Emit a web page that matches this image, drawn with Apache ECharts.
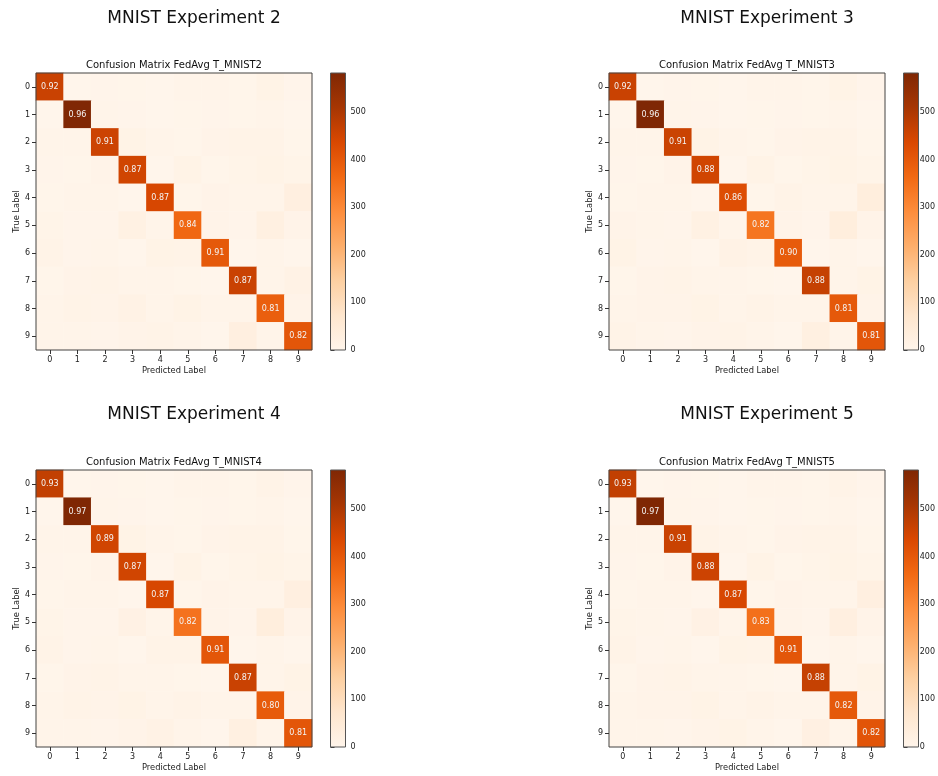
<!DOCTYPE html>
<html><head><meta charset="utf-8">
<script src="https://cdn.jsdelivr.net/npm/echarts@6/dist/echarts.min.js"></script>
<style>html,body{margin:0;padding:0;background:#fff}#c{width:938px;height:776px}</style>
</head><body><div id="c"></div>
<script>
const classLabels = ['0','1','2','3','4','5','6','7','8','9'];
const colorbarTicks = [0, 100, 200, 300, 400, 500];
const colorMin = 0;
const colorMax = 582;
const experimentNames = ['MNIST Experiment 2', 'MNIST Experiment 3', 'MNIST Experiment 4', 'MNIST Experiment 5'];
const matrixTitles = ['Confusion Matrix FedAvg T_MNIST2', 'Confusion Matrix FedAvg T_MNIST3', 'Confusion Matrix FedAvg T_MNIST4', 'Confusion Matrix FedAvg T_MNIST5'];

// rows = true label, columns = predicted label (counts)
const exp2Counts = [
  [460, 0, 3, 2, 1, 5, 5, 2, 12, 3],
  [0, 580, 5, 3, 1, 2, 3, 2, 5, 1],
  [5, 6, 455, 12, 6, 2, 8, 9, 10, 2],
  [3, 2, 8, 450, 1, 12, 2, 7, 12, 7],
  [2, 4, 4, 1, 440, 2, 8, 4, 6, 28],
  [7, 3, 3, 20, 6, 368, 8, 3, 25, 8],
  [10, 3, 4, 1, 12, 9, 400, 0, 5, 0],
  [2, 8, 10, 6, 6, 2, 0, 460, 4, 15],
  [6, 10, 8, 14, 6, 12, 4, 4, 385, 8],
  [6, 6, 3, 8, 10, 4, 1, 28, 6, 405]
];
const exp2Accuracy = ['0.92', '0.96', '0.91', '0.87', '0.87', '0.84', '0.91', '0.87', '0.81', '0.82'];

const exp3Counts = [
  [460, 0, 3, 2, 1, 5, 4, 2, 12, 3],
  [0, 582, 5, 3, 1, 2, 3, 2, 5, 1],
  [5, 6, 458, 12, 6, 2, 8, 9, 10, 2],
  [3, 2, 8, 450, 1, 12, 2, 7, 12, 7],
  [2, 5, 4, 1, 425, 2, 10, 4, 6, 35],
  [8, 5, 3, 20, 6, 340, 8, 3, 35, 8],
  [12, 3, 4, 1, 14, 9, 395, 0, 5, 0],
  [2, 8, 10, 6, 6, 2, 0, 465, 5, 12],
  [6, 8, 8, 12, 6, 10, 4, 4, 400, 8],
  [10, 6, 3, 8, 10, 4, 1, 25, 6, 405]
];
const exp3Accuracy = ['0.92', '0.96', '0.91', '0.88', '0.86', '0.82', '0.90', '0.88', '0.81', '0.81'];

const exp4Counts = [
  [470, 0, 3, 2, 1, 5, 4, 2, 10, 3],
  [0, 582, 5, 3, 1, 2, 3, 2, 5, 1],
  [5, 6, 450, 12, 6, 2, 8, 9, 10, 2],
  [3, 2, 8, 450, 1, 12, 2, 7, 12, 7],
  [2, 4, 4, 1, 440, 2, 8, 4, 6, 28],
  [7, 3, 3, 18, 6, 345, 8, 3, 35, 8],
  [10, 3, 4, 1, 10, 9, 405, 0, 5, 0],
  [2, 8, 10, 6, 6, 2, 0, 460, 4, 12],
  [6, 10, 8, 12, 6, 10, 4, 4, 395, 8],
  [6, 6, 3, 8, 14, 4, 1, 25, 6, 405]
];
const exp4Accuracy = ['0.93', '0.97', '0.89', '0.87', '0.87', '0.82', '0.91', '0.87', '0.80', '0.81'];

const exp5Counts = [
  [470, 0, 3, 2, 1, 5, 4, 2, 10, 3],
  [0, 582, 5, 3, 1, 2, 3, 2, 5, 1],
  [5, 6, 460, 10, 6, 2, 8, 9, 10, 2],
  [3, 2, 8, 455, 1, 12, 2, 7, 12, 7],
  [2, 4, 4, 1, 440, 2, 8, 4, 6, 28],
  [7, 5, 3, 18, 6, 350, 8, 3, 28, 8],
  [10, 3, 4, 1, 12, 9, 405, 0, 5, 0],
  [2, 8, 10, 6, 6, 2, 0, 465, 4, 12],
  [6, 8, 8, 12, 6, 10, 4, 4, 400, 8],
  [6, 6, 3, 8, 12, 4, 1, 22, 6, 410]
];
const exp5Accuracy = ['0.93', '0.97', '0.91', '0.88', '0.87', '0.83', '0.91', '0.88', '0.82', '0.82'];

const orangesColors = ['#fff5eb', '#fee6ce', '#fdd0a2', '#fdae6b', '#fd8d3c', '#f16913', '#d94801', '#a63603', '#7f2704'];

// ---- layout ----
const FONT = 'DejaVu Sans';
const panelLefts = [36, 609];
const panelTops = [73, 470];
const PW = 276, PH = 277;
const CB_OFF = 294.5, CB_W = 15;
const supTitleY = [10, 406];
const panels = [
  {counts: exp2Counts, acc: exp2Accuracy, col: 0, row: 0},
  {counts: exp3Counts, acc: exp3Accuracy, col: 1, row: 0},
  {counts: exp4Counts, acc: exp4Accuracy, col: 0, row: 1},
  {counts: exp5Counts, acc: exp5Accuracy, col: 1, row: 1}
];

const grids = [], xAxes = [], yAxes = [], series = [], titles = [], graphics = [];
panels.forEach((p, k) => {
  const left = panelLefts[p.col], top = panelTops[p.row];
  grids.push({left: left, top: top, width: PW, height: PH, show: true, borderColor: '#444', borderWidth: 1, backgroundColor: 'transparent'});
  xAxes.push({gridIndex: 2 * k, type: 'category', data: classLabels, position: 'bottom',
    axisLine: {show: false}, splitLine: {show: false},
    axisTick: {show: true, alignWithLabel: true, length: 4, lineStyle: {color: '#333'}},
    axisLabel: {fontSize: 8, color: '#222', margin: 6, fontFamily: FONT},
    name: 'Predicted Label', nameLocation: 'middle', nameGap: 17,
    nameTextStyle: {fontSize: 8.3, color: '#222', fontFamily: FONT}});
  yAxes.push({gridIndex: 2 * k, type: 'category', data: classLabels, inverse: true,
    axisLine: {show: false}, splitLine: {show: false},
    axisTick: {show: true, alignWithLabel: true, length: 4, lineStyle: {color: '#333'}},
    axisLabel: {fontSize: 8, color: '#222', margin: 6, fontFamily: FONT},
    name: 'True Label', nameLocation: 'middle', nameGap: 15, nameRotate: 90,
    nameTextStyle: {fontSize: 8.3, color: '#222', fontFamily: FONT}});
  const data = [];
  p.counts.forEach((rowVals, i) => rowVals.forEach((v, j) => data.push([j, i, v])));
  const acc = p.acc;
  series.push({type: 'heatmap', xAxisIndex: 2 * k, yAxisIndex: 2 * k, data: data, z: -1,
    emphasis: {disabled: true},
    label: {show: true, color: '#f4f4f4', fontSize: 8, fontFamily: FONT,
      formatter: (q) => q.data[0] === q.data[1] ? acc[q.data[0]] : ''}});
  const cbLeft = left + CB_OFF;
  grids.push({left: cbLeft, top: top, width: CB_W, height: PH, show: false});
  xAxes.push({gridIndex: 2 * k + 1, type: 'value', show: false, min: 0, max: 1});
  yAxes.push({gridIndex: 2 * k + 1, type: 'value', position: 'right', min: colorMin, max: colorMax,
    axisLine: {show: false}, splitLine: {show: false},
    axisTick: {show: true, length: 4, customValues: colorbarTicks, lineStyle: {color: '#333'}},
    axisLabel: {fontSize: 8, color: '#222', margin: 5, fontFamily: FONT, customValues: colorbarTicks}});
  graphics.push({type: 'rect', shape: {x: cbLeft, y: top, width: CB_W, height: PH}, z: 10,
    style: {stroke: '#555', lineWidth: 1, fill: {type: 'linear', x: 0, y: 1, x2: 0, y2: 0,
      colorStops: orangesColors.map((c, i) => ({offset: i / (orangesColors.length - 1), color: c}))}}});
  titles.push({text: experimentNames[k], left: left + 158, top: supTitleY[p.row], textAlign: 'center', padding: 0,
    textStyle: {fontSize: 17, fontWeight: 'normal', color: '#111', fontFamily: FONT}});
  titles.push({text: matrixTitles[k], left: left + PW / 2, top: top - 13, textAlign: 'center', padding: 0,
    textStyle: {fontSize: 10, fontWeight: 'normal', color: '#111', fontFamily: FONT}});
});

const chart = echarts.init(document.getElementById('c'), null, {renderer: 'canvas'});
chart.setOption({
  animation: false,
  backgroundColor: '#fff',
  title: titles,
  grid: grids,
  xAxis: xAxes,
  yAxis: yAxes,
  visualMap: {type: 'continuous', show: false, min: colorMin, max: colorMax, seriesIndex: [0, 1, 2, 3],
    inRange: {color: orangesColors}},
  graphic: graphics,
  series: series
});
</script></body></html>
